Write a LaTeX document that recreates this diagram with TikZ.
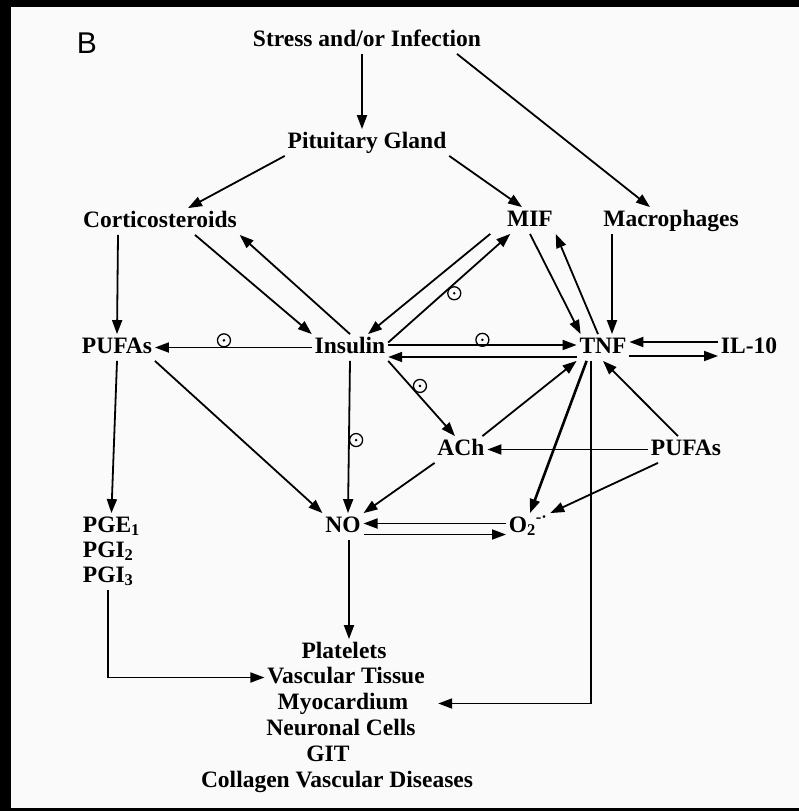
\documentclass[tikz,border=0pt]{standalone}
\usepackage{fontspec}
\setmainfont{Liberation Serif}
\newfontfamily\panelfont{Liberation Sans}
\usetikzlibrary{arrows.meta}
\begin{document}
\begin{tikzpicture}[x=1pt,y=-1pt,line width=1.8pt,
		>={Triangle[length=14pt,width=10pt]},
		lbl/.style={font=\fontsize{23.5}{28}\selectfont\bfseries,inner sep=2pt,text height=16pt,text depth=5pt,anchor=base},
		inh/.style={circle,draw,line width=1.3pt,minimum size=13pt,inner sep=0pt,
			path picture={\fill (path picture bounding box.center) circle (1.4pt);}}]
		\useasboundingbox (0,0) rectangle (798,811);
		\fill[black] (-10,-10) rectangle (820,830);
		\fill[white!98!black] (11,7) rectangle (820,808);
		\node[font=\panelfont\fontsize{30}{30}\selectfont,anchor=base] (panel) at (87,53) {B};
		\node[lbl] (stress) at (367,46) {Stress and/or Infection};
		\node[lbl] (pit) at (367,148) {Pituitary Gland};
		\node[lbl] (cort) at (160,227) {Corticosteroids};
		\node[lbl] (mif) at (530,226) {MIF};
		\node[lbl] (mac) at (671,226) {Macrophages};
		\node[lbl] (pufa) at (117,353) {PUFAs};
		\node[lbl] (ins) at (350,353) {Insulin};
		\node[lbl] (tnf) at (603,353) {TNF};
		\node[lbl] (il) at (749,353) {IL-10};
		\node[lbl] (ach) at (461,455) {ACh};
		\node[lbl] (pufb) at (686,455) {PUFAs};
		\node[lbl] (no) at (343,532) {NO};
		\node[lbl,anchor=base west] (ox) at (506,532) {O\textsubscript{2}\textsuperscript{-·}};
		\node[lbl,anchor=base west] (pge) at (80,532) {PGE\textsubscript{1}};
		\node[lbl,anchor=base west] (pgi2) at (80,557) {PGI\textsubscript{2}};
		\node[lbl,anchor=base west] (pgi3) at (80,582) {PGI\textsubscript{3}};
		\node[lbl] (plt) at (344,658) {Platelets};
		\node[lbl] (vasc) at (346,683) {Vascular Tissue};
		\node[lbl] (myo) at (343,709) {Myocardium};
		\node[lbl] (neur) at (341,735) {Neuronal Cells};
		\node[lbl] (git) at (328,761) {GIT};
		\node[lbl] (coll) at (337,787) {Collagen Vascular Diseases};
		\path[->] ([xshift=-5pt]stress.south) edge ([xshift=-5pt]pit.north)
			([xshift=90pt]stress.south) edge ([xshift=-21pt]mac.north)
			(pit.south west) edge ([xshift=28pt]cort.north)
			(pit.south east) edge ([xshift=-8pt]mif.north)
			([xshift=-42pt]cort.south) edge (pufa.north)
			([xshift=35pt]cort.south) edge (ins.north west)
			(ins.north) edge (cort.south east)
			([xshift=-14pt]mif.south west) edge ([xshift=18pt]ins.north)
			([yshift=5pt]ins.east) edge node[inh,below right,pos=0.5] {} ([xshift=6pt]mif.south west)
			(mif.south) edge ([xshift=4pt]tnf.north west)
			([xshift=-5pt]tnf.north) edge (mif.south east)
			([xshift=-59pt]mac.south) edge ([xshift=9pt]tnf.north)
			([yshift=2.5pt]ins.east) edge node[inh,above=-2pt,pos=0.5] {} ([yshift=2.5pt]tnf.west)
			([yshift=-9.5pt]tnf.west) edge ([yshift=-9.5pt]ins.east)
			([yshift=5.5pt]il.west) edge ([yshift=5.5pt]tnf.east)
			([yshift=-8.5pt]tnf.east) edge ([yshift=-8.5pt]il.west)
			(ins.west) edge node[inh,above,pos=0.56] {} (pufa.east)
			(ins.south east) edge node[inh,above right,pos=0.4] {} ([xshift=-6pt]ach.north)
			(ins.south) edge node[inh,right,pos=0.52] {} ([xshift=5pt]no.north)
			(pufa.south east) edge (no.north west)
			(ach.south west) edge (no.north east)
			([xshift=-5pt]ach.north east) edge (tnf.south west)
			([xshift=10pt]tnf.south west) edge[line width=2.6pt] ([xshift=24pt]ox.north west)
			([xshift=-8pt]pufb.north) edge (tnf.south)
			(pufb.west) edge (ach.east)
			([xshift=-28pt]pufb.south) edge (ox.north east)
			([yshift=3pt]ox.west) edge ([yshift=3pt]no.east)
			([yshift=-8pt]no.east) edge ([yshift=-8pt]ox.west)
			([xshift=6pt]no.south) edge ([xshift=5pt]plt.north)
			(pufa.south) edge (pge.north);
		\draw[->] (pgi3.south) |- (vasc.west);
		\draw[->] ([xshift=-12pt]tnf.south) |- ([xshift=27pt]myo.east);
	\end{tikzpicture}
\end{document}
